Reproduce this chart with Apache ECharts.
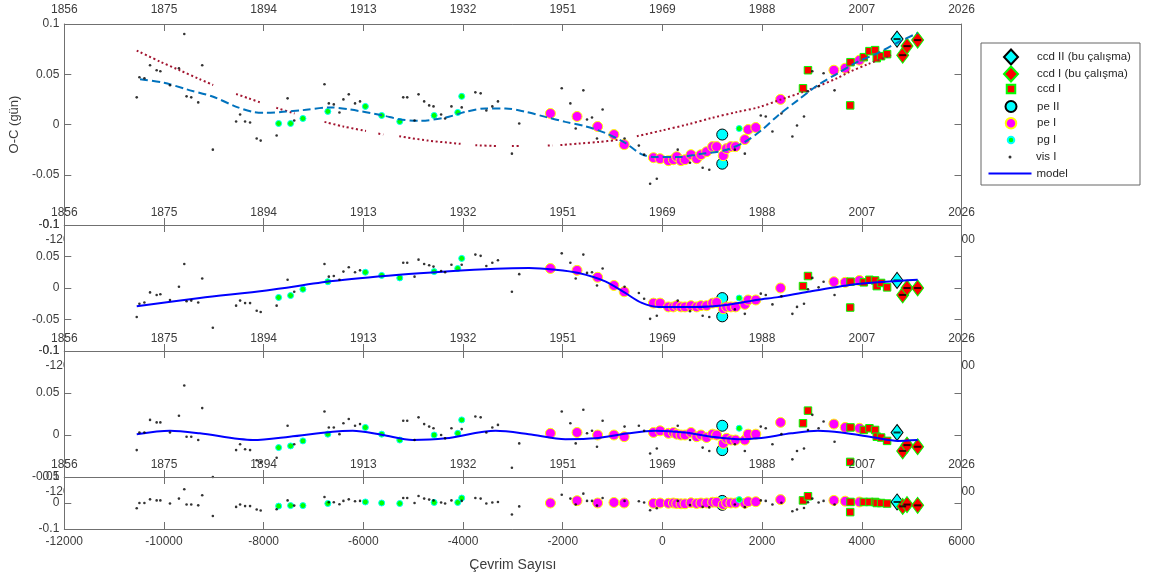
<!DOCTYPE html>
<html>
<head>
<meta charset="utf-8">
<script src="https://cdn.jsdelivr.net/npm/echarts@6/dist/echarts.min.js"></script>
<style>
html, body { margin: 0; padding: 0; background: #fff; }
#chart { width: 1154px; height: 578px; }
</style>
</head>
<body>
<div id="chart"></div>
<script>
// ---- Tick labels -------------------------------------------------------
const yearTicks = ['1856', '1875', '1894', '1913', '1932', '1951', '1969', '1988', '2007', '2026'];

// ---- Observations: cycle number E and O-C (days) in each of the four panels
// panel 1: O-C, panel 2: O-C minus parabola, panel 3: minus LTTE term, panel 4: residuals
const visE = [-10547,-10493,-10393,-10280,-10147,-10073,-9880,-9700,-9593,-9547,
  -9453,-9313,-9233,-9020,-8553,-8473,-8373,-8273,-8140,-8060,
  -7740,-7520,-7387,-6780,-6693,-6593,-6480,-6400,-6293,-6167,
  -6067,-5200,-5120,-4973,-4893,-4780,-4680,-4593,-4440,-4360,
  -4233,-4027,-3753,-3647,-3533,-3413,-3300,-3020,-2873,-2020,
  -1847,-1740,-1587,-1513,-1413,-1313,-1200,-760,-473,-367,
  -247,-113,307,553,807,940,1453,1653,1973,2073,
  2207,2387,2607,2700,2840,2920,3007,3133,3233,3453];
const visP1 = [0.027,0.047,0.046,0.059,0.054,0.053,0.039,0.056,0.090,0.028,
  0.027,0.022,0.059,-0.025,0.003,0.010,0.003,0.002,-0.014,-0.016,
  -0.011,0.026,0.004,0.040,0.021,0.020,0.012,0.025,0.030,0.021,
  0.023,0.027,0.027,0.004,0.030,0.023,0.019,0.018,0.010,0.006,
  0.018,0.017,0.032,0.031,0.014,0.018,0.023,-0.029,0.001,0.036,
  0.021,-0.004,0.034,0.005,0.007,-0.014,0.015,-0.014,-0.021,-0.030,
  -0.059,-0.054,-0.025,-0.038,-0.043,-0.045,-0.025,-0.029,0.009,0.008,
  -0.007,0.011,-0.012,-0.001,0.008,0.033,0.053,0.038,0.051,0.034];
const visP2 = [-0.046,-0.025,-0.023,-0.007,-0.011,-0.010,-0.019,0.002,0.038,-0.021,
  -0.020,-0.023,0.015,-0.063,-0.028,-0.020,-0.024,-0.024,-0.036,-0.038,
  -0.028,0.013,-0.006,0.038,0.018,0.019,0.013,0.026,0.033,0.025,
  0.028,0.040,0.040,0.018,0.045,0.038,0.036,0.034,0.027,0.025,
  0.037,0.037,0.053,0.051,0.035,0.040,0.044,-0.006,0.022,0.055,
  0.040,0.015,0.053,0.024,0.025,0.004,0.031,0.002,-0.008,-0.017,
  -0.049,-0.044,-0.020,-0.037,-0.044,-0.046,-0.034,-0.041,-0.009,-0.011,
  -0.026,-0.013,-0.041,-0.030,-0.025,-0.002,0.016,0.001,0.010,-0.011];
const visP3 = [-0.018,0.003,0.003,0.018,0.015,0.015,0.003,0.023,0.059,-0.002,
  -0.002,-0.006,0.032,-0.050,-0.018,-0.011,-0.017,-0.018,-0.030,-0.032,
  -0.027,0.011,-0.011,0.028,0.009,0.009,0.001,0.014,0.019,0.011,
  0.013,0.017,0.017,-0.006,0.021,0.013,0.010,0.008,0.000,-0.004,
  0.008,0.007,0.022,0.021,0.003,0.009,0.012,-0.039,-0.010,0.028,
  0.014,-0.010,0.030,0.002,0.005,-0.014,0.017,0.010,0.011,0.005,
  -0.022,-0.016,0.011,-0.006,-0.015,-0.019,-0.011,-0.019,0.010,0.008,
  -0.011,0.001,-0.029,-0.019,-0.016,0.006,0.024,0.008,0.016,-0.008];
const visP4 = [-0.020,0.000,0.000,0.014,0.010,0.010,-0.002,0.017,0.053,-0.006,
  -0.006,-0.009,0.030,-0.050,-0.015,-0.006,-0.012,-0.012,-0.025,-0.029,
  -0.024,0.010,-0.010,0.023,0.003,0.003,-0.005,0.008,0.014,0.007,
  0.008,0.019,0.019,0.000,0.027,0.017,0.013,0.010,0.002,-0.002,
  0.010,0.008,0.019,0.017,-0.002,0.002,0.004,-0.044,-0.013,0.032,
  0.017,-0.006,0.036,0.008,0.008,-0.010,0.019,0.008,0.007,0.002,
  -0.028,-0.020,0.008,-0.008,-0.015,-0.017,-0.006,-0.016,0.010,0.008,
  -0.006,0.001,-0.032,-0.025,-0.019,0.003,0.017,0.002,0.008,-0.006];

const pgE  = [-7700,-7460,-7213,-6713,-5960,-5633,-5270,-4580,-4107,-4027,1540];
const pgP1 = [0.001,0.001,0.006,0.013,0.018,0.009,0.003,0.009,0.012,0.028,-0.004];
const pgP2 = [-0.015,-0.012,-0.002,0.010,0.025,0.020,0.016,0.026,0.031,0.047,-0.016];
const pgP3 = [-0.015,-0.013,-0.007,0.001,0.009,0.001,-0.006,0.000,0.002,0.018,0.008];
const pgP4 = [-0.012,-0.010,-0.010,-0.002,0.004,0.000,-0.002,0.002,0.002,0.019,0.013];

const peE  = [-2247,-1713,-1300,-973,-767,-180,-47,120,220,287,373,453,573,687,773,
  887,1007,1087,1220,1287,1373,1467,1653,1720,1873,2370,3440,3667,3953];
const peP1 = [0.011,0.008,-0.002,-0.010,-0.020,-0.033,-0.034,-0.036,-0.035,-0.032,-0.036,-0.035,-0.030,-0.034,-0.030,
  -0.027,-0.022,-0.022,-0.031,-0.024,-0.022,-0.022,-0.015,-0.005,-0.003,0.025,0.054,0.056,0.064];
const peP2 = [0.031,0.028,0.017,0.004,-0.006,-0.024,-0.024,-0.030,-0.030,-0.028,-0.030,-0.030,-0.028,-0.030,-0.028,
  -0.028,-0.024,-0.023,-0.033,-0.030,-0.030,-0.030,-0.026,-0.019,-0.019,0.000,0.010,0.009,0.012];
const peP3 = [0.002,0.003,0.000,0.000,-0.002,0.003,0.005,0.002,0.003,0.001,0.000,0.000,0.003,-0.002,0.000,
  -0.003,0.001,0.000,-0.010,-0.004,-0.006,-0.006,-0.006,0.001,0.001,0.015,0.013,0.009,0.008];
const peP4 = [0.000,0.009,0.000,0.002,0.000,-0.001,0.000,-0.001,0.000,-0.002,-0.003,-0.003,0.001,-0.002,0.000,
  0.000,0.003,0.003,-0.006,0.001,0.000,0.000,-0.001,0.005,0.005,0.013,0.010,0.007,0.004];

const pe2E  = [1200, 1200];
const pe2P1 = [-0.010, -0.039];
const pe2P2 = [-0.016, -0.045];
const pe2P3 = [0.011, -0.018];
const pe2P4 = [0.008, -0.007];

const ccdE  = [2820,2920,3767,3773,4040,4153,4267,4300,4387,4507];
const ccdP1 = [0.036,0.054,0.019,0.062,0.067,0.073,0.074,0.066,0.068,0.070];
const ccdP2 = [0.003,0.019,-0.031,0.010,0.009,0.013,0.012,0.003,0.008,0.001];
const ccdP3 = [0.014,0.029,-0.032,0.009,0.006,0.008,0.006,-0.002,-0.003,-0.007];
const ccdP4 = [0.010,0.026,-0.035,0.004,0.004,0.004,0.004,0.000,0.000,-0.002];

const ccdBuE  = [4820, 4907, 5120];
const ccdBuP1 = [0.069, 0.078, 0.084];
const ccdBuP2 = [-0.011, 0.000, 0.000];
const ccdBuP3 = [-0.019, -0.012, -0.014];
const ccdBuP4 = [-0.013, -0.006, -0.009];

const ccd2BuE  = [4707];
const ccd2BuP1 = [0.085];
const ccd2BuP2 = [0.012];
const ccd2BuP3 = [0.003];
const ccd2BuP4 = [0.004];

// ---- Fitted curves ----------------------------------------------------
// quadratic term (null = no observations nearby, the dotted curve breaks)
const parE = [-10547,-10080,-9700,-9280,-9013,-8800,
  -8553,-8300,-8047,-7900,
  -7747,-7380,-7100,
  -6780,-6400,-5947,-5800,
  -5700,-5600,-5450,
  -5280,-4700,-4050,-3900,
  -3753,-3300,-3150,
  -3020,-2870,-2500,
  -2300,-2200,-2120,
  -2047,-1680,-1280,-880,-700,
  -513,-13,500,987,1500,1920,2387,2800,3120,3500,3720,4120,4587];
const parV = [0.0736,0.0626,0.0543,0.045,0.0393,null,
  0.0303,0.026,0.0216,null,
  0.0166,0.011,null,
  0.0026,-0.002,-0.0064,null,
  -0.009,-0.010,null,
  -0.0117,-0.016,-0.0192,null,
  -0.0207,-0.0214,null,
  -0.0214,-0.0214,null,
  -0.021,-0.0208,null,
  -0.0205,-0.019,-0.0174,-0.0152,null,
  -0.0117,-0.006,0.000,0.0065,0.0125,0.017,0.025,0.032,0.038,0.046,0.0516,0.060,0.069];

// full model drawn over the O-C diagram
const fitE = [-10480,-10000,-9547,-9013,-8547,-8213,-7947,-7613,-7213,-6680,-6280,-5613,-5280,-4880,
  -4347,-3947,-3547,-3147,-2747,-2347,-1947,-1547,-1147,-747,-413,-147,320,720,1253,1653,
  1987,2320,2720,3120,3520,3920,4320,4720,5120];
const fitV = [0.045,0.0416,0.035,0.0276,0.0176,0.0126,0.0116,0.0126,0.0143,0.017,0.015,0.009,0.0053,0.0036,
  0.007,0.0126,0.016,0.016,0.0126,0.0076,0.0026,-0.0017,-0.0084,-0.0184,-0.0297,-0.0324,-0.0324,-0.0297,-0.0257,-0.0174,
  -0.0057,0.009,0.0243,0.0393,0.051,0.0626,0.071,0.0816,0.091];

// model of the second panel
const m2E = [-10547,-9280,-7947,-6613,-5280,-4347,-3347,-2680,-2147,-1680,-1147,-747,-413,-80,653,1320,1920,2320,2920,3920,5120];
const m2V = [-0.029,-0.0158,-0.0038,0.011,0.021,0.0262,0.0305,0.0316,0.0289,0.0237,0.0104,-0.0079,-0.0237,-0.030,-0.030,-0.0264,-0.0185,-0.0145,-0.006,0.0063,0.0131];

// model of the third panel
const m3E = [-10547,-9880,-9280,-8213,-7480,-6613,-6213,-5613,-5013,-4347,-3347,-2680,-1947,-1347,-680,-147,453,987,1520,1920,2587,3120,3587,4253,4720,5120];
const m3V = [0.001,0.005,0.002,-0.006,-0.002,0.004,0.005,0.000,-0.006,-0.004,0.005,0.001,-0.005,-0.004,0.002,0.005,0.003,-0.002,-0.005,-0.004,0.002,0.005,0.003,-0.003,-0.007,-0.006];

// ---- Layout ------------------------------------------------------------
const FONT = '"Liberation Sans", Arial, Helvetica, sans-serif';
const AXIS_COLOR = '#707070';
const TEXT_COLOR = '#3c3c3c';
const PLOT_LEFT = 64.3, PLOT_WIDTH = 897.2;
const TOP = [24, 225, 351, 477];
const HEIGHT = [201, 126, 126, 52];
const YMIN = [-0.1, -0.1, -0.05, -0.1];
const YMAX = [0.1, 0.1, 0.1, 0.1];
const YSTEP = [0.05, 0.05, 0.05, 0.1];

const pts = (xs, ys) => xs.map((x, i) => [x, ys[i] == null ? '-' : ys[i]]);
const lineS = { color: AXIS_COLOR, width: 1 };
const labelBase = { color: TEXT_COLOR, fontSize: 12, fontFamily: FONT };

const grid = TOP.map((t, i) => ({ left: PLOT_LEFT, width: PLOT_WIDTH, top: t, height: HEIGHT[i] }));

const xAxis = [];
for (let i = 0; i < 4; i++) {
  xAxis.push({
    type: 'value', gridIndex: i, position: 'bottom', min: -12000, max: 6000, interval: 2000,
    z: i < 3 ? 0 : 3,
    axisLine: { show: true, onZero: false, lineStyle: lineS },
    axisTick: { show: true, inside: true, length: 7, lineStyle: lineS },
    splitLine: { show: false },
    axisLabel: Object.assign({ margin: i < 3 ? 9 : 7, showMinLabel: true, showMaxLabel: true,
      formatter: v => String(v) }, labelBase),
    name: i === 3 ? 'Çevrim Sayısı' : '',
    nameLocation: 'middle', nameGap: 29,
    nameTextStyle: { color: TEXT_COLOR, fontSize: 14, fontFamily: FONT }
  });
}
for (let i = 0; i < 4; i++) {
  xAxis.push({
    type: 'value', gridIndex: i, position: 'top', min: -12000, max: 6000, interval: 2000,
    z: 5,
    axisLine: { show: true, onZero: false, lineStyle: lineS },
    axisTick: { show: true, inside: true, length: 7, lineStyle: lineS },
    splitLine: { show: false },
    axisLabel: Object.assign({
      margin: i === 0 ? 8 : 6, showMinLabel: true, showMaxLabel: true,
      formatter: v => yearTicks[Math.round((v + 12000) / 2000)]
    }, labelBase)
  });
}

const yAxis = [];
for (let i = 0; i < 4; i++) {
  yAxis.push({
    type: 'value', gridIndex: i, position: 'left', min: YMIN[i], max: YMAX[i], interval: YSTEP[i],
    z: 3,
    axisLine: { show: true, onZero: false, lineStyle: lineS },
    axisTick: { show: true, inside: true, length: 7, lineStyle: lineS },
    splitLine: { show: false },
    axisLabel: Object.assign({ margin: 5, showMinLabel: true, showMaxLabel: true,
      formatter: v => String(Math.round(v * 100) / 100) }, labelBase),
    name: i === 0 ? 'O-C (gün)' : '',
    nameLocation: 'middle', nameGap: 38,
    nameTextStyle: { color: TEXT_COLOR, fontSize: 13, fontFamily: FONT }
  });
}
for (let i = 0; i < 4; i++) {
  yAxis.push({
    type: 'value', gridIndex: i, position: 'right', min: YMIN[i], max: YMAX[i], interval: YSTEP[i],
    z: 3,
    axisLine: { show: true, onZero: false, lineStyle: lineS },
    axisTick: { show: true, inside: true, length: 7, lineStyle: lineS },
    splitLine: { show: false },
    axisLabel: { show: false }
  });
}

// ---- Marker groups -------------------------------------------------------
const groups = [
  { name: 'pe II', E: pe2E, P: [pe2P1, pe2P2, pe2P3, pe2P4], symbol: 'circle', size: 11, color: '#00ffff', border: '#000000', bw: 1 },
  { name: 'pe I', E: peE, P: [peP1, peP2, peP3, peP4], symbol: 'circle', size: 10, color: '#ff00ff', border: '#ffff00', bw: 1 },
  { name: 'pg I', E: pgE, P: [pgP1, pgP2, pgP3, pgP4], symbol: 'circle', size: 6, color: '#00ff00', border: '#00ffff', bw: 1 },
  { name: 'ccd I', E: ccdE, P: [ccdP1, ccdP2, ccdP3, ccdP4], symbol: 'rect', size: 7.5, color: '#ff0000', border: '#00ff00', bw: 1 },
  { name: 'ccd II (bu çalışma)', E: ccd2BuE, P: [ccd2BuP1, ccd2BuP2, ccd2BuP3, ccd2BuP4], symbol: 'diamond', size: [12, 16], color: '#00ffff', border: '#000000', bw: 1 },
  { name: 'ccd I (bu çalışma)', E: ccdBuE, P: [ccdBuP1, ccdBuP2, ccdBuP3, ccdBuP4], symbol: 'diamond', size: [12, 16], color: '#ff0000', border: '#00ff00', bw: 1 }
];

const series = [];
for (let p = 0; p < 4; p++) {
  groups.forEach(g => {
    series.push({
      type: 'scatter', name: g.name, xAxisIndex: p, yAxisIndex: p, z: 2, silent: true,
      symbol: g.symbol, symbolSize: g.size,
      itemStyle: { color: g.color, borderColor: g.border, borderWidth: g.bw, opacity: 1 },
      data: pts(g.E, g.P[p])
    });
  });
  // timing error bars of the new minima
  series.push({
    type: 'scatter', name: 'hata', xAxisIndex: p, yAxisIndex: p, z: 2, silent: true,
    symbol: 'rect', symbolSize: [7, 2], itemStyle: { color: '#000' },
    data: pts(ccd2BuE.concat(ccdBuE), [ccd2BuP1, ccd2BuP2, ccd2BuP3, ccd2BuP4][p].concat([ccdBuP1, ccdBuP2, ccdBuP3, ccdBuP4][p]))
  });
}

// fitted curves
series.push({
  type: 'line', name: 'model', xAxisIndex: 1, yAxisIndex: 1, z: 3, silent: true,
  symbol: 'none', smooth: 0.3, data: pts(m2E, m2V),
  itemStyle: { color: '#0000ff' },
  lineStyle: { color: '#0000ff', width: 2 }
});
series.push({
  type: 'line', name: 'model', xAxisIndex: 2, yAxisIndex: 2, z: 3, silent: true,
  symbol: 'none', smooth: 0.3, data: pts(m3E, m3V),
  itemStyle: { color: '#0000ff' },
  lineStyle: { color: '#0000ff', width: 2 }
});
series.push({
  type: 'line', name: 'parabol', xAxisIndex: 0, yAxisIndex: 0, z: 3, silent: true,
  symbol: 'none', smooth: 0.3, connectNulls: false, data: pts(parE, parV),
  lineStyle: { color: '#a2142f', width: 2, type: [2, 2.6], cap: 'butt' }
});
series.push({
  type: 'line', name: 'toplam model', xAxisIndex: 0, yAxisIndex: 0, z: 3, silent: true,
  symbol: 'none', smooth: 0.3, data: pts(fitE, fitV),
  lineStyle: { color: '#0072bd', width: 2, type: [8, 4] }
});

// visual timings on top
const visP = [visP1, visP2, visP3, visP4];
for (let p = 0; p < 4; p++) {
  series.push({
    type: 'scatter', name: 'vis I', xAxisIndex: p, yAxisIndex: p, z: 4, silent: true,
    symbol: 'circle', symbolSize: 2.6, itemStyle: { color: '#000000' },
    data: pts(visE, visP[p])
  });
}

// ---- Legend (one block per entry so marker sizes can differ) --------------
const ICON_CX = 1010, TEXT_X = 1036;
const legendSpec = [
  { name: 'ccd II (bu çalışma)', w: 14, h: 15, yc: 56 },
  { name: 'ccd I (bu çalışma)', w: 14, h: 15, yc: 73 },
  { name: 'ccd I', w: 8.5, h: 8.5, yc: 90 },
  { name: 'pe II', w: 11, h: 11, yc: 107 },
  { name: 'pe I', w: 10.5, h: 10.5, yc: 124 },
  { name: 'pg I', w: 6.5, h: 6.5, yc: 141 },
  { name: 'vis I', w: 3, h: 3, yc: 158 },
  { name: 'model', w: 43, h: 2, yc: 174.5, icon: 'rect' }
];
const legend = legendSpec.map(l => {
  const left = ICON_CX - l.w / 2;
  const pad = Math.max(0, TEXT_X - (left + l.w + 5));
  return {
    show: true, orient: 'vertical', left: left, top: l.yc - Math.max(l.h, 14) / 2,
    padding: 0, itemGap: 0, itemWidth: l.w, itemHeight: l.h, selectedMode: false,
    data: [l.icon ? { name: l.name, icon: l.icon } : l.name],
    textStyle: { color: '#262626', fontSize: 11.5, fontFamily: FONT, padding: [0, 0, 0, pad] }
  };
});

// white panes over the upper strip of panels 2-4 (they hide the number
// labels of the panel above, as stacked axes do)
const masks = [1, 2, 3].map(i => ({
  type: 'rect', z: 1, silent: true,
  shape: { x: PLOT_LEFT + 0.7, y: TOP[i] + 1, width: PLOT_WIDTH - 1.2, height: 26 },
  style: { fill: '#ffffff' }
}));

const chart = echarts.init(document.getElementById('chart'), null, { renderer: 'canvas' });
chart.setOption({
  animation: false,
  backgroundColor: '#ffffff',
  grid, xAxis, yAxis, series, legend,
  graphic: {
    elements: masks.concat([{
      type: 'rect', z: 0, silent: true,
      shape: { x: 981, y: 43, width: 159, height: 142 },
      style: { fill: '#ffffff', stroke: '#666666', lineWidth: 1 }
    }])
  }
});
</script>
</body>
</html>
